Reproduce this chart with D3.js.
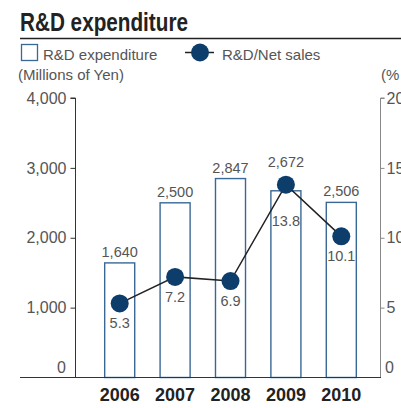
<!DOCTYPE html>
<html>
<head>
<meta charset="utf-8">
<script src="https://cdn.jsdelivr.net/npm/d3@7"></script>
<style>
  body { margin: 0; background: #fff; }
  text { font-family: "Liberation Sans", Arial, sans-serif; }
</style>
</head>
<body>
<script>
// data
var years = ['2006', '2007', '2008', '2009', '2010'];
var expenditure = [1640, 2500, 2847, 2672, 2506];   // millions of yen
var ratio = [5.3, 7.2, 6.9, 13.8, 10.1];            // % of net sales
var leftTicks = [1000, 2000, 3000, 4000];
var rightTicks = [5, 10, 15, 20];

var width = 401, height = 408;
var barColour = '#3a6896', dotColour = '#0c3d6b', textColour = '#555';

var svg = d3.select('body').append('svg')
    .attr('width', width)
    .attr('height', height);

// title (condensed look)
svg.append('text')
    .attr('x', 20).attr('y', 31)
    .attr('font-weight', 'bold')
    .attr('font-size', 25)
    .attr('fill', '#222')
    .attr('textLength', 168)
    .attr('lengthAdjust', 'spacingAndGlyphs')
    .text('R&D expenditure');
svg.append('line')
    .attr('x1', 20).attr('x2', width)
    .attr('y1', 38.5).attr('y2', 38.5)
    .attr('stroke', '#222').attr('stroke-width', 1.3);

// legend
svg.append('rect')
    .attr('x', 21.5).attr('y', 44.5).attr('width', 16).attr('height', 16)
    .attr('fill', '#fff').attr('stroke', barColour).attr('stroke-width', 1.3);
svg.append('text')
    .attr('x', 43).attr('y', 59.5)
    .attr('font-size', 15).attr('fill', textColour)
    .text('R&D expenditure');
svg.append('line')
    .attr('x1', 185).attr('x2', 214).attr('y1', 52.5).attr('y2', 52.5)
    .attr('stroke', '#222').attr('stroke-width', 1.5);
svg.append('circle')
    .attr('cx', 200).attr('cy', 52.5).attr('r', 9)
    .attr('fill', dotColour);
svg.append('text')
    .attr('x', 222).attr('y', 59.5)
    .attr('font-size', 15).attr('fill', textColour)
    .text('R&D/Net sales');

// unit labels
svg.append('text')
    .attr('x', 18).attr('y', 80)
    .attr('font-size', 15).attr('fill', textColour)
    .text('(Millions of Yen)');
svg.append('text')
    .attr('x', 381).attr('y', 80)
    .attr('font-size', 15).attr('fill', textColour)
    .text('(%');

// scales
var x = d3.scaleBand()
    .domain(years)
    .range([92, 369])
    .paddingInner(0.44)
    .paddingOuter(0.22);
var yLeft = d3.scaleLinear().domain([0, 4000]).range([377.5, 98]);
var yRight = d3.scaleLinear().domain([0, 20]).range([377.5, 98]);

// left axis
var leftAxis = svg.append('g')
    .attr('transform', 'translate(75.5,0)')
    .call(d3.axisLeft(yLeft).tickValues(leftTicks).tickFormat(d3.format(',')).tickSize(5).tickPadding(4));
leftAxis.select('.domain').attr('stroke', '#333').attr('d', 'M-5,' + yLeft(4000) + 'H0V' + yLeft(0));
leftAxis.selectAll('.tick line').attr('stroke', '#333');
leftAxis.selectAll('.tick text')
    .attr('font-size', 16).attr('fill', textColour)
    .attr('font-family', '"Liberation Sans", Arial, sans-serif');
svg.append('text')
    .attr('x', 66).attr('y', 373)
    .attr('text-anchor', 'end')
    .attr('font-size', 16).attr('fill', textColour)
    .text('0');

// right axis (labels run off the right edge, as in the source)
var rightAxis = svg.append('g')
    .attr('transform', 'translate(380.5,0)')
    .call(d3.axisRight(yRight).tickValues(rightTicks).tickSize(4).tickPadding(2));
rightAxis.select('.domain').attr('stroke', '#888').attr('d', 'M4,' + yRight(20) + 'H0V' + yRight(0));
rightAxis.selectAll('.tick line').attr('stroke', '#888');
rightAxis.selectAll('.tick text')
    .attr('font-size', 16).attr('fill', textColour)
    .attr('font-family', '"Liberation Sans", Arial, sans-serif');
svg.append('text')
    .attr('x', 385).attr('y', 373)
    .attr('font-size', 16).attr('fill', textColour)
    .text('0');

// bars
svg.selectAll('.bar')
    .data(expenditure)
    .enter()
    .append('rect')
    .attr('class', 'bar')
    .attr('x', function(d, i) { return x(years[i]) + 0.5; })
    .attr('y', function(d) { return yLeft(d); })
    .attr('width', x.bandwidth() - 1)
    .attr('height', function(d) { return yLeft(0) - yLeft(d); })
    .attr('fill', '#fff')
    .attr('stroke', barColour)
    .attr('stroke-width', 1.4);

// baseline
svg.append('line')
    .attr('x1', 20).attr('x2', 381)
    .attr('y1', 377.5).attr('y2', 377.5)
    .attr('stroke', '#333').attr('stroke-width', 1.2);

// line + dots
var cx = function(i) { return x(years[i]) + x.bandwidth() / 2; };
var line = d3.line()
    .x(function(d, i) { return cx(i); })
    .y(function(d) { return yRight(d); });
svg.append('path')
    .datum(ratio)
    .attr('d', line)
    .attr('fill', 'none')
    .attr('stroke', '#222')
    .attr('stroke-width', 1.5);
svg.selectAll('.dot')
    .data(ratio)
    .enter()
    .append('circle')
    .attr('class', 'dot')
    .attr('cx', function(d, i) { return cx(i); })
    .attr('cy', function(d) { return yRight(d); })
    .attr('r', 9)
    .attr('fill', dotColour);

// bar value labels (lifted above the dot when it sits on the bar top)
svg.selectAll('.bar-label')
    .data(expenditure)
    .enter()
    .append('text')
    .attr('class', 'bar-label')
    .attr('x', function(d, i) { return cx(i); })
    .attr('y', function(d, i) { return Math.min(yLeft(d) - 6, yRight(ratio[i]) - 18); })
    .attr('text-anchor', 'middle')
    .attr('font-size', 14.5)
    .attr('fill', textColour)
    .text(d3.format(','));

// ratio labels below the dots
svg.selectAll('.ratio-label')
    .data(ratio)
    .enter()
    .append('text')
    .attr('class', 'ratio-label')
    .attr('x', function(d, i) { return cx(i); })
    .attr('y', function(d, i) { return Math.max(yRight(d) + 25, yLeft(expenditure[i]) + 35); })
    .attr('text-anchor', 'middle')
    .attr('font-size', 14.5)
    .attr('fill', textColour)
    .text(function(d) { return d.toFixed(1); });

// year labels
svg.selectAll('.year')
    .data(years)
    .enter()
    .append('text')
    .attr('class', 'year')
    .attr('x', function(d) { return x(d) + x.bandwidth() / 2; })
    .attr('y', 401)
    .attr('text-anchor', 'middle')
    .attr('font-size', 18)
    .attr('font-weight', 'bold')
    .attr('fill', '#222')
    .text(function(d) { return d; });
</script>
</body>
</html>
